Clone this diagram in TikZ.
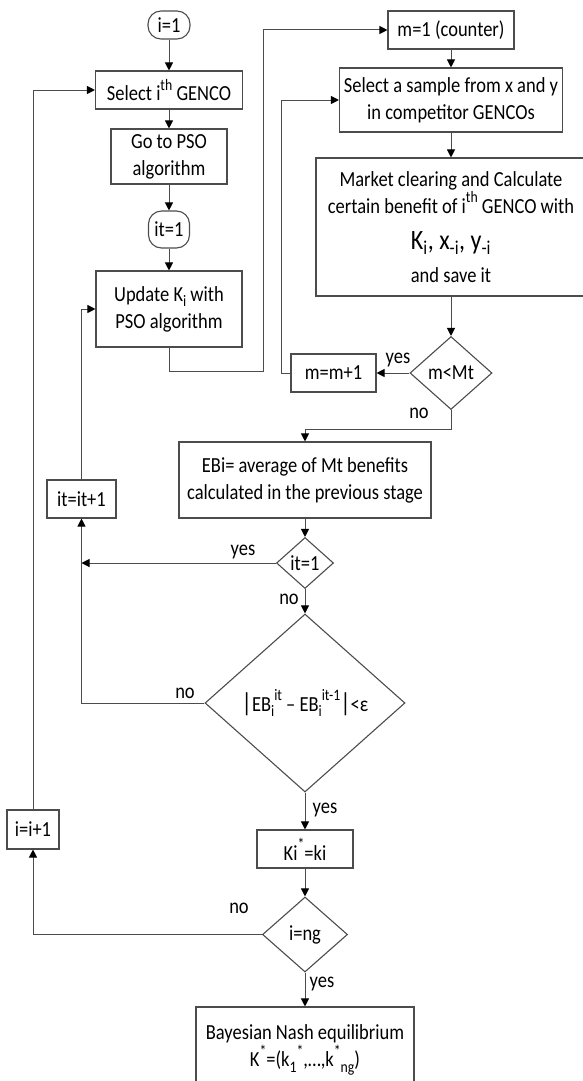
\documentclass[tikz,border=0pt]{standalone}
\usepackage{fontspec}
\setmainfont{Carlito}[FakeStretch=0.86]
\usepackage{tikz}
\usetikzlibrary{arrows.meta,calc,shapes.geometric}
\newcommand{\supx}[1]{\raisebox{0.5em}{\fontsize{16}{16}\selectfont #1}}
\newcommand{\subx}[1]{\raisebox{-0.25em}{\fontsize{16}{16}\selectfont #1}}

\begin{document}
\begin{tikzpicture}[x=1pt,y=-1pt,
  every node/.style={font=\fontsize{21.5}{27}\selectfont,align=center,inner sep=0pt},
  box/.style={draw=black!70,line width=1.1pt},
  term/.style={box,rounded corners=13pt},
  decide/.style={box,diamond,aspect=1.1},
  flow/.style={draw=black!70,line width=1pt,-{Triangle[length=8pt,width=8pt,color=black]}},
  lab/.style={font=\fontsize{21.5}{22}\selectfont}]
  \useasboundingbox (0,0) rectangle (583,1081);

  \node[term,minimum width=42pt,minimum height=28pt] (start) at (169,25) {i=1};
  \node[box,minimum width=147pt,minimum height=38pt] (selgen) at (169,90) {Select i\supx{th} GENCO};
  \node[box,minimum width=116pt,minimum height=55pt] (gopso) at (169,156.5) {Go to PSO\\algorithm};
  \node[term,minimum width=41pt,minimum height=37pt] (itone) at (169,229.5) {it=1};
  \node[box,minimum width=146pt,minimum height=76pt] (update) at (169,309) {Update K\subx{i} with\\PSO algorithm};

  \node[box,minimum width=126pt,minimum height=38pt] (mone) at (451,30) {m=1 (counter)};
  \node[box,minimum width=223pt,minimum height=64pt] (sample) at (451,100) {Select a sample from x and y\\in competitor GENCOs};
  \node[box,minimum width=270pt,minimum height=138pt] (market) at (451,227) {Market clearing and Calculate\\certain benefit of i\supx{th} GENCO with\\[9pt]{\fontsize{28}{30}\selectfont K\textsubscript{i}, x\textsubscript{-i}, y\textsubscript{-i}}\\[6pt]and save it};
  \node[decide,minimum width=82pt,minimum height=73pt] (mlt) at (451,373) {m<Mt};
  \node[box,minimum width=85pt,minimum height=38pt] (mplus) at (333.5,373) {m=m+1};

  \node[box,minimum width=252pt,minimum height=76pt] (ebi) at (305,480) {EBi= average of Mt benefits\\calculated in the previous stage};
  \node[decide,minimum width=57pt,minimum height=51pt] (itdec) at (305,563) {it=1};
  \node[box,minimum width=69pt,minimum height=38pt] (itplus) at (81.5,499) {it=it+1};
  \node[decide,minimum width=200pt,minimum height=178pt] (conv) at (305,703) {{\fontsize{26}{26}\selectfont|}EB\subx{i}\supx{it} -- EB\subx{i}\supx{it-1}{\fontsize{26}{26}\selectfont|}<ε};
  \node[box,minimum width=96pt,minimum height=38pt] (kstar) at (305,849) {Ki\supx{*}=ki};
  \node[decide,minimum width=85pt,minimum height=75pt] (ing) at (305,934.5) {i=ng};
  \node[box,minimum width=52pt,minimum height=39pt] (iplus) at (33,829.5) {i=i+1};
  \node[box,minimum width=218pt,minimum height=86pt] (bayes) at (305,1050) {Bayesian Nash equilibrium\\K\supx{*}=(k\subx{1}\supx{*},…,k\supx{*}\subx{ng})};

  \coordinate (bendA) at (263,371);
  \coordinate (bendB) at (281,100);
  \coordinate (bendC) at (305,429);

  \draw[flow] (start) -- (selgen);
  \draw[flow] (selgen) -- (gopso);
  \draw[flow] (gopso) -- (itone);
  \draw[flow] (itone) -- (update);
  \draw[flow] (update.south) |- (bendA) |- (mone.west);
  \draw[flow] (mone) -- (sample);
  \draw[flow] (sample) -- (market);
  \draw[flow] (market) -- (mlt);
  \draw[flow] (mlt) -- (mplus);
  \draw[flow] (mplus.west) -| (bendB) -- (sample.west);
  \draw[flow] (mlt.south) |- (bendC) -- (ebi.north);
  \draw[flow] (ebi) -- (itdec);
  \draw[flow] (itdec.west) -- (itdec.west -| itplus.south);
  \draw[flow] (itdec) -- (conv);
  \draw[flow] (conv.west) -| (itplus.south);
  \draw[flow] (itplus.north) |- (update.west);
  \draw[flow] (conv) -- (kstar);
  \draw[flow] (kstar) -- (ing);
  \draw[flow] (ing.west) -| (iplus.south);
  \draw[flow] (iplus.north) |- (selgen.west);
  \draw[flow] (ing) -- (bayes);

  \node[lab] (yesA) at (398,360) {yes};
  \node[lab] (noA) at (419,413) {no};
  \node[lab] (yesB) at (243,552) {yes};
  \node[lab] (noB) at (289,599) {no};
  \node[lab] (noC) at (185,693) {no};
  \node[lab] (yesC) at (325,810) {yes};
  \node[lab] (noD) at (239,908) {no};
  \node[lab] (yesD) at (322,984) {yes};
\end{tikzpicture}
\end{document}
